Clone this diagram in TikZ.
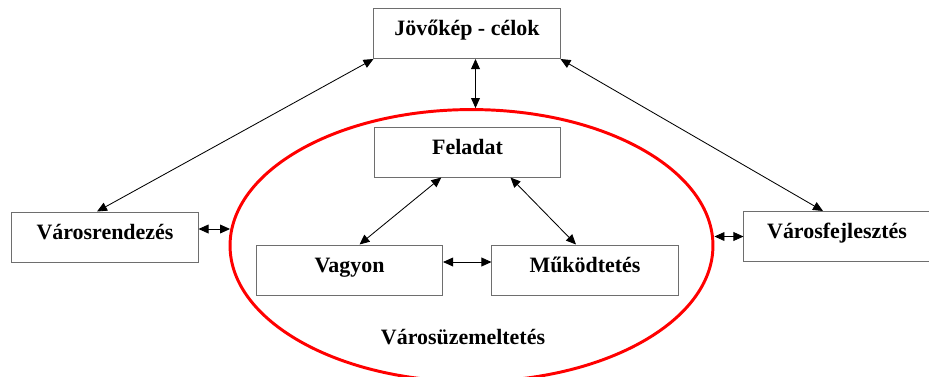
\documentclass[tikz,border=0pt]{standalone}
\usepackage{fontspec}
\setmainfont{Liberation Serif}
\usetikzlibrary{calc,arrows.meta,positioning,shapes.geometric}
\definecolor{boxc}{HTML}{6E6E6E}
\definecolor{ringc}{HTML}{FF0000}
\tikzset{
  ar/.style={{Triangle[length=2.5mm,width=2.2mm]}-{Triangle[length=2.5mm,width=2.2mm]},line width=0.6pt,black},
  bx/.style={rectangle,draw=boxc,line width=0.7pt,minimum width=4.65cm,minimum height=1.25cm,inner sep=0pt,text height=3.7mm,text depth=2.5mm,font=\bfseries\fontsize{15.6}{18}\selectfont},
  lb/.style={inner sep=0pt,font=\bfseries\fontsize{15.6}{18}\selectfont}
}

\begin{document}
\begin{tikzpicture}[x=0.025cm,y=-0.025cm]
\useasboundingbox (0,0) rectangle (929,376);
\clip (0,0) rectangle (929,376);
\node[ellipse,draw=ringc,line width=2.1pt,minimum width=12.07cm,minimum height=6.8cm,inner sep=0pt] (ell) at (471.5,245.6) {};
\node[bx] (jov) at (467,33.5) {Jövőkép - célok};
\node[bx] (fel) at (467.5,152) {Feladat};
\node[bx] (vag) at (349.5,270) {Vagyon};
\node[bx] (mud) at (585,270) {Működtetés};
\node[bx] (rend) at (105,237) {Városrendezés};
\node[bx] (fejl) at (837,236.5) {Városfejlesztés};
\node[lb,anchor=base] (uzem) at (463,344) {Városüzemeltetés};
% kapcsolatok
\draw[ar] (jov.south west) -- ($(rend.north)+(-8,0)$);
\draw[ar] (jov.south east) -- ($(fejl.north)+(-14,0)$);
\draw[ar] ($(jov.south)+(8.5,0)$) -- ($(ell.north)+(4,0)$);
\draw[ar] ($(rend.east)+(0,-8)$) -- ($(rend.east -| ell.west)+(1.5,-8)$);
\draw[ar] (fejl.west) -- (fejl.west -| ell.east);
\draw[ar] ($(fel.south west)!0.36!(fel.south east)$) -- ($(vag.north)+(10,0)$);
\draw[ar] ($(fel.south west)!0.73!(fel.south east)$) -- ($(mud.north)+(-9,0)$);
\draw[ar] ($(vag.east)+(0,-8)$) -- ($(mud.west)+(0,-8)$);
\end{tikzpicture}
\end{document}
